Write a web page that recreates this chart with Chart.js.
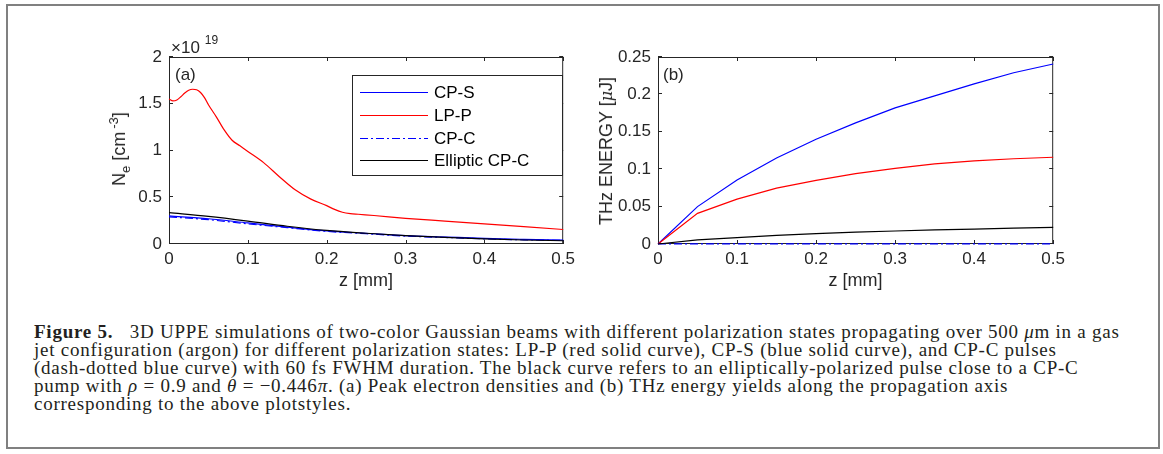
<!DOCTYPE html>
<html>
<head>
<meta charset="utf-8">
<script src="https://cdn.jsdelivr.net/npm/chart.js@4"></script>
<style>
  body { margin:0; width:1163px; height:454px; background:#fff; overflow:hidden; position:relative; }
  #frame { position:absolute; left:6px; top:4px; width:1154px; height:445px; box-sizing:border-box; border:2px solid #808080; }
  canvas { position:absolute; }
  .lbl { position:absolute; font-family:'Liberation Sans', Arial, sans-serif; color:#262626; white-space:nowrap; line-height:1; }
  .ytitle { font-size:18px; transform:translate(-50%,-50%) rotate(-90deg); }
  #caption { position:absolute; left:34px; top:323px; font-family:'Liberation Serif', 'Times New Roman', serif;
             font-size:19px; line-height:18px; letter-spacing:0.75px; color:#231f20; white-space:nowrap; }
</style>
</head>
<body>
<div id="frame"></div>
<canvas id="chartA" width="480" height="275" style="left:100px;top:20px"></canvas>
<canvas id="chartB" width="490" height="275" style="left:580px;top:20px"></canvas>

<div class="lbl" style="left:171px;top:39px;font-size:17px">×10<span style="position:relative;top:-9px;font-size:12px;margin-left:5px">19</span></div>
<div class="lbl" style="left:175px;top:66px;font-size:17px">(a)</div>
<div class="lbl" style="left:663px;top:66px;font-size:17px">(b)</div>
<div class="lbl ytitle" style="left:119px;top:149px">N<span style="position:relative;top:5px;font-size:13px">e</span> [cm<span style="position:relative;top:-7px;font-size:13px;margin-left:3px">-3</span>]</div>
<div class="lbl ytitle" style="left:606px;top:151px">THz ENERGY [<i style="font-family:'DejaVu Serif',serif;font-size:16px">μ</i>J]</div>

<div id="caption">
<b>Figure 5.</b>&nbsp;&nbsp; 3D UPPE simulations of two-color Gaussian beams with different polarization states propagating over 500 <i>μ</i>m in a gas<br>
jet configuration (argon) for different polarization states: LP-P (red solid curve), CP-S (blue solid curve), and CP-C pulses<br>
(dash-dotted blue curve) with 60 fs FWHM duration. The black curve refers to an elliptically-polarized pulse close to a CP-C<br>
pump with <i>ρ</i> = 0.9 and <i>θ</i> = −0.446<i>π</i>. (a) Peak electron densities and (b) THz energy yields along the propagation axis<br>
corresponding to the above plotstyles.
</div>

<script>
/* ---------- data: panel (a) peak electron density, x10^19 cm^-3 ---------- */
const zRedA = [0, 0.005, 0.01, 0.015, 0.02, 0.025, 0.03, 0.035, 0.04, 0.045, 0.05, 0.06, 0.07, 0.08, 0.09, 0.1,
               0.12, 0.14, 0.16, 0.18, 0.2, 0.21, 0.22, 0.23, 0.24, 0.26, 0.3, 0.35, 0.4, 0.45, 0.5];
const lppA  = [1.55, 1.53, 1.54, 1.575, 1.615, 1.645, 1.655, 1.65, 1.62, 1.565, 1.49, 1.36, 1.22, 1.11, 1.05, 0.99,
               0.87, 0.72, 0.58, 0.48, 0.41, 0.37, 0.34, 0.325, 0.318, 0.305, 0.275, 0.245, 0.215, 0.185, 0.155];
const zA    = [0, 0.05, 0.1, 0.15, 0.2, 0.25, 0.3, 0.35, 0.4, 0.45, 0.5];
const cpsA  = [0.30, 0.27, 0.225, 0.18, 0.14, 0.115, 0.09, 0.075, 0.06, 0.05, 0.042];
const cpcA  = [0.29, 0.26, 0.215, 0.175, 0.135, 0.11, 0.085, 0.07, 0.055, 0.045, 0.038];
const ellA  = [0.335, 0.295, 0.245, 0.19, 0.145, 0.115, 0.09, 0.07, 0.055, 0.043, 0.035];

/* ---------- data: panel (b) THz energy, uJ ---------- */
const zB    = [0, 0.05, 0.1, 0.15, 0.2, 0.25, 0.3, 0.35, 0.4, 0.45, 0.5];
const cpsB  = [0, 0.05, 0.0857, 0.115, 0.14, 0.162, 0.182, 0.198, 0.214, 0.229, 0.2406];
const lppB  = [0, 0.041, 0.06, 0.0746, 0.085, 0.094, 0.101, 0.107, 0.111, 0.114, 0.116];
const cpcB  = [0, 0.0002, 0.0002, 0.0002, 0.0002, 0.0002, 0.0002, 0.0002, 0.0002, 0.0002, 0.0002];
const ellB  = [0, 0.0054, 0.0085, 0.0115, 0.0138, 0.0158, 0.0174, 0.0188, 0.02, 0.0212, 0.0223];

/* ---------- ticks ---------- */
const xTicks      = [0, 0.1, 0.2, 0.3, 0.4, 0.5];
const xTickLabels = ['0', '0.1', '0.2', '0.3', '0.4', '0.5'];
const yTicksA      = [0, 0.5, 1, 1.5, 2];
const yTickLabelsA = ['0', '0.5', '1', '1.5', '2'];
const yTicksB      = [0, 0.05, 0.1, 0.15, 0.2, 0.25];
const yTickLabelsB = ['0', '0.05', '0.1', '0.15', '0.2', '0.25'];

const seriesNames = ['CP-S', 'LP-P', 'CP-C', 'Elliptic CP-C'];

const INK = '#262626';
const FONT = 'Liberation Sans, Arial, sans-serif';
const pts = (xs, ys) => xs.map((x, i) => ({x, y: ys[i]}));

// MATLAB-like box: outline on all four sides, short ticks pointing inward
const boxTicks = {
  id: 'boxTicks',
  beforeDatasetsDraw(chart){
    const {ctx, chartArea: a, scales: {x, y}} = chart;
    ctx.save();
    ctx.strokeStyle = INK;
    ctx.lineWidth = 1;
    ctx.strokeRect(a.left + 0.5, a.top + 0.5, a.right - a.left - 1, a.bottom - a.top - 1);
    ctx.beginPath();
    x.ticks.forEach(t => {
      const p = Math.round(x.getPixelForValue(t.value)) + 0.5;
      ctx.moveTo(p, a.bottom); ctx.lineTo(p, a.bottom - 4);
      ctx.moveTo(p, a.top);    ctx.lineTo(p, a.top + 4);
    });
    y.ticks.forEach(t => {
      const p = Math.round(y.getPixelForValue(t.value)) - 0.5;
      ctx.moveTo(a.left, p);  ctx.lineTo(a.left + 4, p);
      ctx.moveTo(a.right, p); ctx.lineTo(a.right - 4, p);
    });
    ctx.stroke();
    ctx.restore();
  }
};

// boxed legend drawn inside the plot area of panel (a)
const legendBox = {
  id: 'legendBox',
  afterDatasetsDraw(chart, args, o){
    if (!o || !o.show) return;
    const {ctx} = chart;
    ctx.save();
    ctx.fillStyle = '#fff';
    ctx.fillRect(o.x, o.y, o.w, o.h);
    ctx.strokeStyle = INK;
    ctx.lineWidth = 1;
    ctx.strokeRect(o.x + 0.5, o.y + 0.5, o.w, o.h);
    ctx.font = '17px ' + FONT;
    ctx.textBaseline = 'middle';
    chart.data.datasets.forEach((ds, i) => {
      const yy = Math.round(o.firstRow + i * o.rowH) + 0.5;
      ctx.strokeStyle = ds.borderColor;
      ctx.lineWidth = ds.borderWidth;
      ctx.setLineDash(ds.borderDash || []);
      ctx.beginPath();
      ctx.moveTo(o.lineX, yy); ctx.lineTo(o.lineX + o.lineW, yy);
      ctx.stroke();
      ctx.setLineDash([]);
      ctx.fillStyle = '#000';
      ctx.fillText(ds.label, o.textX, yy + 1);
    });
    ctx.restore();
  }
};

function makeDatasets(xs, ys, smooth){
  const colors = ['#0000ff', '#ff0000', '#0000ff', '#000000'];
  const dashes = [[], [], [8, 3, 2, 3], []];
  const order  = [3, 2, 1, 0];
  return ys.map((d, i) => ({
    label: seriesNames[i],
    data: pts(xs[i], d),
    borderColor: colors[i],
    borderWidth: 1.2,
    borderDash: dashes[i],
    order: order[i],
    pointRadius: 0,
    fill: false,
    clip: 2,
    cubicInterpolationMode: smooth ? 'monotone' : 'default',
    tension: 0
  }));
}

function axisOpts(ticks, labels, pad, extra){
  return Object.assign({
    type: 'linear',
    min: ticks[0],
    max: ticks[ticks.length - 1],
    afterBuildTicks: s => { s.ticks = ticks.map(v => ({value: v})); },
    ticks: {
      autoSkip: false, maxRotation: 0, padding: pad,
      callback: (v, i) => labels[i],
      color: INK, font: {family: FONT, size: 17}
    },
    grid: {display: false, drawTicks: false},
    border: {display: false}
  }, extra);
}

function makeChart(id, datasets, yTicks, yLabels, yWidth, padRight, legendOpts){
  return new Chart(document.getElementById(id), {
    type: 'line',
    data: {datasets},
    options: {
      responsive: false,
      animation: false,
      layout: {padding: {left: 0, right: padRight, top: 37, bottom: 0}},
      plugins: {
        legend: {display: false},
        tooltip: {enabled: false},
        legendBox: legendOpts
      },
      scales: {
        x: axisOpts(xTicks, xTickLabels, 5, {
          title: {display: true, text: 'z [mm]', color: INK, font: {family: FONT, size: 18}, padding: {top: 0, bottom: 3}},
          afterFit: s => { s.height = 51; }
        }),
        y: axisOpts(yTicks, yLabels, 7, {afterFit: s => { s.width = yWidth; }})
      }
    },
    plugins: [boxTicks, legendBox]
  });
}

makeChart('chartA',
  makeDatasets([zA, zRedA, zA, zA], [cpsA, lppA, cpcA, ellA], true),
  yTicksA, yTickLabelsA, 69, 13,
  {show: true, x: 252, y: 55, w: 210, h: 100, firstRow: 72, rowH: 22.8, lineX: 260, lineW: 68, textX: 334});

makeChart('chartB',
  makeDatasets([zB, zB, zB, zB], [cpsB, lppB, cpcB, ellB], false),
  yTicksB, yTickLabelsB, 78, 14, {show: false});
</script>
</body>
</html>
